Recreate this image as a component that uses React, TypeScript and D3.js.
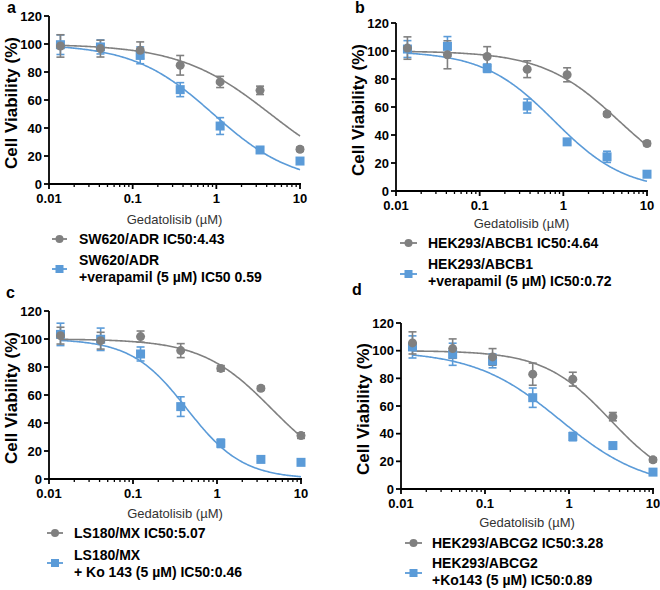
import React from "react";
import * as d3 from "d3";

// Concentrations (µM), 3-fold dilution series
const concentrations = [0.0137, 0.0412, 0.123, 0.37, 1.11, 3.33, 10];
const xTickValues = [0.01, 0.1, 1, 10];
const xTickLabels = ["0.01", "0.1", "1", "10"];
const yTickValues = [0, 20, 40, 60, 80, 100, 120];
const panelLetters = ["a", "b", "c", "d"];

// Panel a
const aGray = [98.6, 96.7, 95.5, 84.8, 72.9, 66.9, 24.8];
const aGrayErr = [8, 6, 6, 7, 4, 3, 1.5];
const aBlue = [99.5, 97.9, 91.9, 67.4, 41.4, 24.3, 16.4];
const aBlueErr = [7, 5, 6, 5, 6, 2, 2];
// Panel b
const bGray = [102.1, 97.3, 96.1, 87.0, 83.0, 55.0, 33.9];
const bGrayErr = [8, 10, 7, 6, 5, 1.5, 1.5];
const bBlue = [101.4, 103.3, 87.7, 60.7, 35.1, 24.4, 12.0];
const bBlueErr = [6, 7, 3, 5, 2, 4, 2];
// Panel c
const cGray = [102.4, 98.8, 101.7, 91.7, 79.0, 64.8, 31.0];
const cGrayErr = [6, 6, 4, 5, 2, 1.5, 2];
const cBlue = [103.3, 99.8, 89.3, 51.7, 25.5, 14.0, 11.9];
const cBlueErr = [8, 8, 5, 7, 3, 1.5, 1.5];
// Panel d
const dGray = [105.6, 101.5, 95.5, 83.0, 79.4, 52.3, 21.1];
const dGrayErr = [8, 7, 6, 8, 5, 3, 1.5];
const dBlue = [102.7, 97.4, 92.6, 66.0, 37.9, 31.4, 12.2];
const dBlueErr = [8, 8, 5, 7, 3, 1.5, 1.5];

// Fitted dose-response curve parameters (IC50 of drawn fit, Hill slope)
const grayFitIC50 = [4.43, 4.64, 4.5, 3.1];
const grayFitHill = [0.8, 0.95, 1.04, 1.1];
const blueFitIC50 = [0.92, 0.78, 0.44, 0.78];
const blueFitHill = [0.91, 1.02, 1.31, 0.85];

// Legend labels
const grayLegend = [
  "SW620/ADR IC50:4.43",
  "HEK293/ABCB1 IC50:4.64",
  "LS180/MX IC50:5.07",
  "HEK293/ABCG2 IC50:3.28",
];
const blueLegend = [
  ["SW620/ADR", "+verapamil (5 µM) IC50 0.59"],
  ["HEK293/ABCB1", "+verapamil (5 µM) IC50:0.72"],
  ["LS180/MX", "+ Ko 143 (5 µM) IC50:0.46"],
  ["HEK293/ABCG2", "+Ko143 (5 µM) IC50:0.89"],
];

const grayValues = [aGray, bGray, cGray, dGray];
const grayErrors = [aGrayErr, bGrayErr, cGrayErr, dGrayErr];
const blueValues = [aBlue, bBlue, cBlue, dBlue];
const blueErrors = [aBlueErr, bBlueErr, cBlueErr, dBlueErr];

const GRAY = "#808080";
const BLUE = "#5b9bd8";
const FONT = "'Liberation Sans', Arial, sans-serif";

// Layout per panel
const layouts = [
  { x0: 49, x1: 300, yTop: 16, yBot: 184, letter: [7, 13], title: 219, lx: [52, 67, 79], rows: [239, 260, 277, 269] },
  { x0: 396, x1: 647, yTop: 23, yBot: 191, letter: [355, 13], title: 223, lx: [400, 417, 428], rows: [243, 264, 281, 274] },
  { x0: 49, x1: 301, yTop: 311, yBot: 479, letter: [6, 298], title: 513, lx: [47, 63, 74], rows: [533, 555, 572, 563] },
  { x0: 401, x1: 653, yTop: 323, yBot: 489, letter: [352, 295], title: 522, lx: [405, 422, 432], rows: [543, 563, 580, 573] },
];

function Panel({ i }: { i: number }) {
  const L = layouts[i];
  const x = d3.scaleLog().domain([0.01, 10]).range([L.x0, L.x1]);
  const y = d3.scaleLinear().domain([0, 120]).range([L.yBot, L.yTop]);
  const minor = x.ticks().filter((t) => !xTickValues.some((m) => Math.abs(m - t) < 1e-9));
  const curvePts = (ic50: number, hill: number) => {
    const xs = d3.range(0, 201).map((k) =>
      Math.pow(10, Math.log10(concentrations[0]) + (k / 200) * (1 - Math.log10(concentrations[0])))
    );
    return xs.map((c) => [c, 100 / (1 + Math.pow(c / ic50, hill))] as [number, number]);
  };
  const line = d3
    .line<[number, number]>()
    .x((d) => x(d[0]))
    .y((d) => y(d[1]));

  const errBars = (vals: number[], errs: number[], color: string) =>
    vals.map((v, k) => {
      const cx = x(concentrations[k]);
      const yt = y(v + errs[k]);
      const yb = y(v - errs[k]);
      return (
        <g key={k} stroke={color} strokeWidth={1.6}>
          <line x1={cx} x2={cx} y1={yt} y2={yb} />
          <line x1={cx - 4} x2={cx + 4} y1={yt} y2={yt} />
          <line x1={cx - 4} x2={cx + 4} y1={yb} y2={yb} />
        </g>
      );
    });

  const midY = (L.yTop + L.yBot) / 2 + 3;
  const ylx = L.x0 - 38;

  return (
    <g>
      <text x={L.letter[0]} y={L.letter[1]} fontSize={16} fontWeight="bold" fontFamily={FONT}>
        {panelLetters[i]}
      </text>
      {/* curves */}
      <path d={line(curvePts(blueFitIC50[i], blueFitHill[i])) || ""} fill="none" stroke={BLUE} strokeWidth={1.6} />
      <path d={line(curvePts(grayFitIC50[i], grayFitHill[i])) || ""} fill="none" stroke={GRAY} strokeWidth={1.6} />
      {/* error bars */}
      {errBars(blueValues[i], blueErrors[i], BLUE)}
      {errBars(grayValues[i], grayErrors[i], GRAY)}
      {/* markers */}
      {blueValues[i].map((v, k) => (
        <rect key={"b" + k} x={x(concentrations[k]) - 4.5} y={y(v) - 4.5} width={9} height={9} fill={BLUE} />
      ))}
      {grayValues[i].map((v, k) => (
        <circle key={"g" + k} cx={x(concentrations[k])} cy={y(v)} r={4.5} fill={GRAY} />
      ))}
      {/* axes */}
      <g stroke="#000" strokeWidth={1.8}>
        <line x1={L.x0} x2={L.x0} y1={L.yTop} y2={L.yBot} />
        <line x1={L.x0} x2={L.x1 + 1} y1={L.yBot} y2={L.yBot} />
        {yTickValues.map((t) => (
          <line key={t} x1={L.x0 - 5} x2={L.x0} y1={y(t)} y2={y(t)} />
        ))}
        {xTickValues.map((t) => (
          <line key={t} x1={x(t)} x2={x(t)} y1={L.yBot} y2={L.yBot + 5} />
        ))}
      </g>
      <g stroke="#000" strokeWidth={1.3}>
        {minor.map((t, k) => (
          <line key={k} x1={x(t)} x2={x(t)} y1={L.yBot} y2={L.yBot + 3} />
        ))}
      </g>
      {yTickValues.map((t) => (
        <text key={t} x={L.x0 - 7} y={y(t) + 4.5} textAnchor="end" fontSize={13} fontWeight="bold" fontFamily={FONT}>
          {t}
        </text>
      ))}
      {xTickValues.map((t, k) => (
        <text key={t} x={x(t)} y={L.yBot + 19} textAnchor="middle" fontSize={13} fontWeight="bold" fontFamily={FONT}>
          {xTickLabels[k]}
        </text>
      ))}
      <text
        transform={`translate(${ylx},${midY}) rotate(-90)`}
        textAnchor="middle"
        dominantBaseline="central"
        fontSize={17}
        fontWeight="bold"
        fontFamily={FONT}
      >
        Cell Viability (%)
      </text>
      <text x={(L.x0 + L.x1) / 2} y={L.title + 4.5} textAnchor="middle" fontSize={13} fill="#333" fontFamily={FONT}>
        Gedatolisib (µM)
      </text>
      {/* legend */}
      <line x1={L.lx[0]} x2={L.lx[1]} y1={L.rows[0]} y2={L.rows[0]} stroke={GRAY} strokeWidth={1.8} />
      <circle cx={(L.lx[0] + L.lx[1]) / 2} cy={L.rows[0]} r={4} fill={GRAY} />
      <text x={L.lx[2]} y={L.rows[0] + 5} fontSize={14} fontWeight="bold" fontFamily={FONT}>
        {grayLegend[i]}
      </text>
      <line x1={L.lx[0]} x2={L.lx[1]} y1={L.rows[3]} y2={L.rows[3]} stroke={BLUE} strokeWidth={1.8} />
      <rect x={(L.lx[0] + L.lx[1]) / 2 - 4} y={L.rows[3] - 4} width={8} height={8} fill={BLUE} />
      <text x={L.lx[2]} y={L.rows[1] + 5} fontSize={14} fontWeight="bold" fontFamily={FONT}>
        {blueLegend[i][0]}
      </text>
      <text x={L.lx[2]} y={L.rows[2] + 5} fontSize={14} fontWeight="bold" fontFamily={FONT}>
        {blueLegend[i][1]}
      </text>
    </g>
  );
}

export default function App() {
  return (
    <svg
      width={660}
      height={590}
      style={{ position: "absolute", left: 0, top: 0, background: "#fff" }}
    >
      <rect width={660} height={590} fill="#fff" />
      {[0, 1, 2, 3].map((i) => (
        <Panel key={i} i={i} />
      ))}
    </svg>
  );
}
